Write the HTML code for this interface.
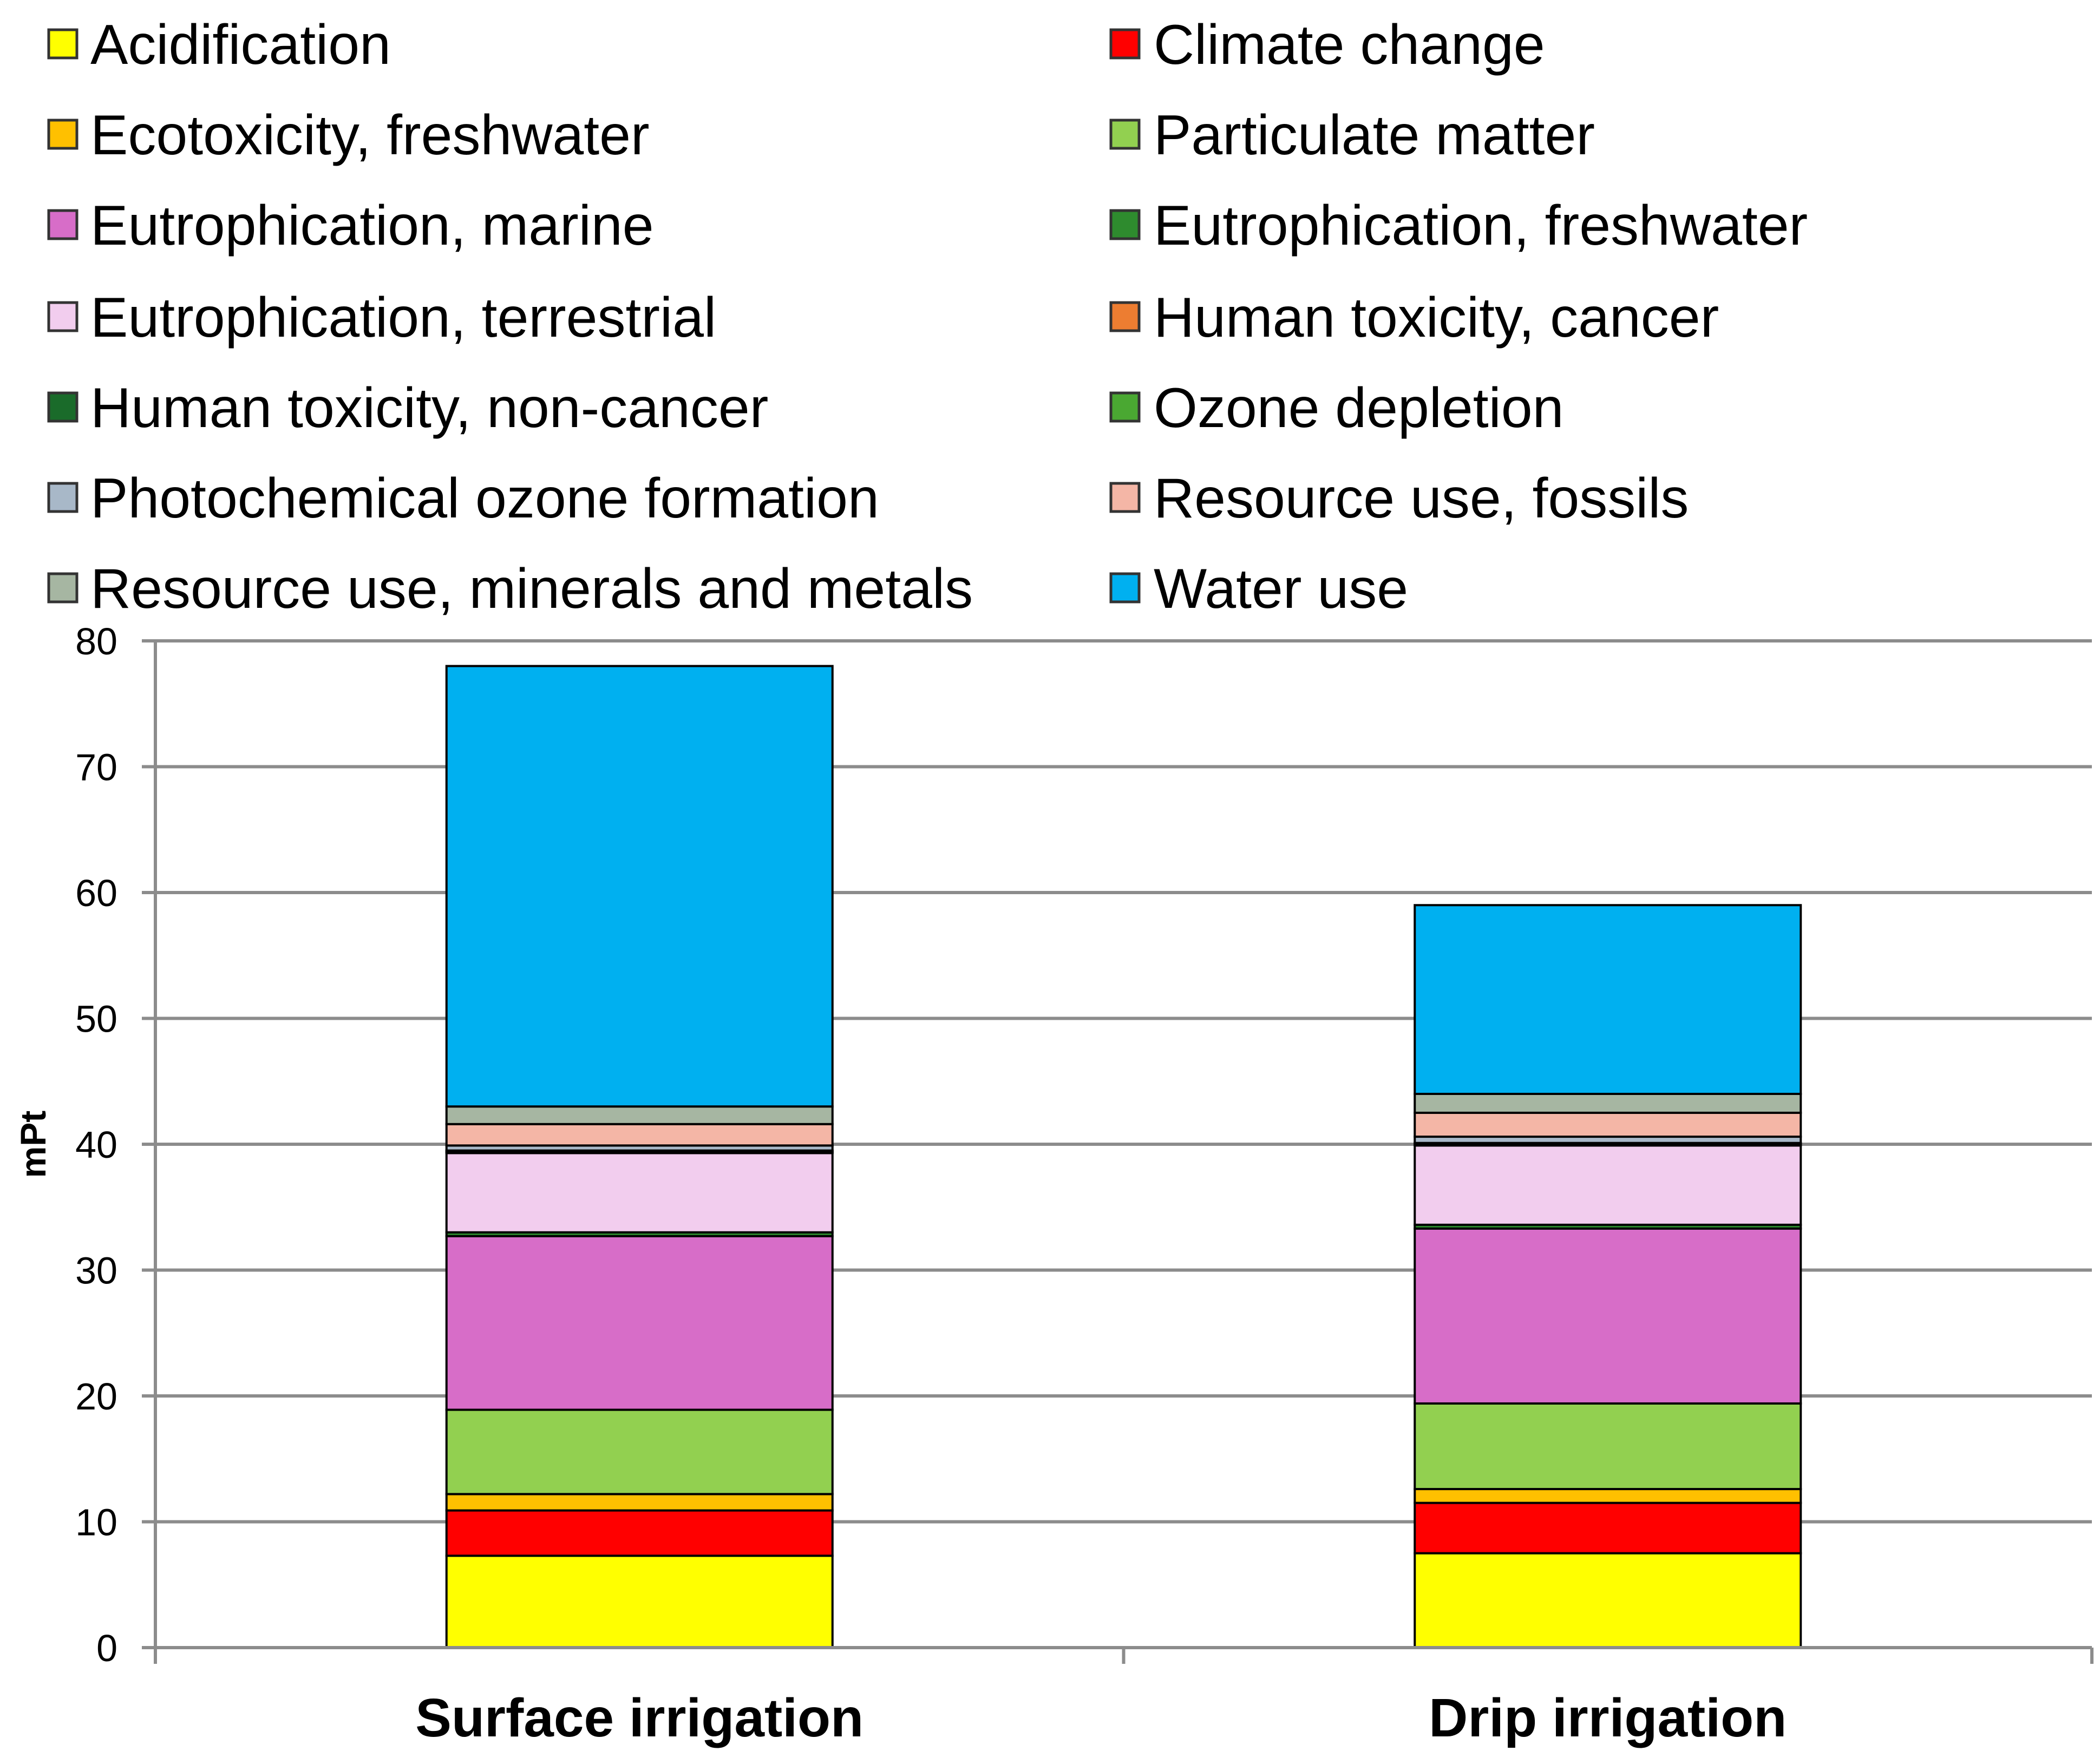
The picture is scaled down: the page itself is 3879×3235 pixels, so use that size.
<!DOCTYPE html>
<html><head><meta charset="utf-8"><style>
html,body{margin:0;padding:0;background:#fff;}
svg{display:block;font-family:"Liberation Sans",sans-serif;}
</style></head><body>
<svg id="chart" width="3879" height="3235" viewBox="0 0 3879 3235" xmlns="http://www.w3.org/2000/svg">
<rect width="3879" height="3235" fill="#fff"/>
<g id="legend"></g>
<g id="grid"></g>
<g id="bars"></g>
<g id="axes"></g>
<text transform="translate(84,2114) rotate(-90)" text-anchor="middle" font-size="66" font-weight="bold" fill="#000">mPt</text>
</svg>
<script>
const categories = ["Surface irrigation", "Drip irrigation"];
const seriesNames = ["Acidification","Climate change","Ecotoxicity, freshwater","Particulate matter","Eutrophication, marine","Eutrophication, freshwater","Eutrophication, terrestrial","Human toxicity, cancer","Human toxicity, non-cancer","Ozone depletion","Photochemical ozone formation","Resource use, fossils","Resource use, minerals and metals","Water use"];
const seriesColors = ["#ffff00","#ff0000","#ffc000","#92d050","#d76dc8","#2e8b2e","#f2cdee","#ed7d31","#1a6b2a","#4aa832","#a8b8c8","#f4b6a6","#a6b6a2","#00b0f0"];
const surfaceValues = [7.3,3.6,1.3,6.7,13.8,0.3,6.3,0.05,0.1,0.05,0.4,1.7,1.4,35.0];
const dripValues = [7.5,4.0,1.1,6.8,13.9,0.3,6.3,0.05,0.1,0.05,0.5,1.9,1.5,15.0];
const yTicks = [0,10,20,30,40,50,60,70,80];
const legendLeft = ["Acidification","Ecotoxicity, freshwater","Eutrophication, marine","Eutrophication, terrestrial","Human toxicity, non-cancer","Photochemical ozone formation","Resource use, minerals and metals"];
const legendRight = ["Climate change","Particulate matter","Eutrophication, freshwater","Human toxicity, cancer","Ozone depletion","Resource use, fossils","Water use"];

const NS="http://www.w3.org/2000/svg";
const X0=287, X1=3864, Y0=3044, Ytop=1184, YMAX=80;
const yScale=v=>Y0-(v/YMAX)*(Y0-Ytop);
const band=(X1-X0)/categories.length;
const xCenter=i=>X0+band*(i+0.5);
const barW=713;
function mk(tag,attrs,parent){const e=document.createElementNS(NS,tag);for(const k in attrs)e.setAttribute(k,attrs[k]);parent.appendChild(e);return e;}

const grid=document.getElementById('grid');
yTicks.forEach(t=>{
  const l=mk('line',{x1:X0-25,x2:X1,y1:yScale(t),y2:yScale(t),stroke:'#8c8c8c','stroke-width':6},grid);
  
  
  const tx=mk('text',{x:X0-70,y:yScale(t)+25,'text-anchor':'end','font-size':70,fill:'#000'},grid);
  tx.textContent=t;
  
  
});

const bars=document.getElementById('bars');
[surfaceValues,dripValues].forEach((vals,ci)=>{
  let cum=0;
  const cx=xCenter(ci);
  vals.forEach((v,si)=>{
    const yTop=yScale(cum+v), yBot=yScale(cum);
    const r=mk('rect',{x:cx-barW/2,y:yTop,width:barW,height:Math.max(yBot-yTop,0.5),fill:seriesColors[si],stroke:'#000','stroke-width':4},bars);
    
    
    cum+=v;
  });
  const lab=mk('text',{x:cx,y:3208,'text-anchor':'middle','font-size':100,'font-weight':'bold',fill:'#000'},bars);
  lab.textContent=categories[ci];
  
  
});

const axes=document.getElementById('axes');
const ya=mk('line',{x1:X0,x2:X0,y1:Ytop,y2:Y0+30,stroke:'#8c8c8c','stroke-width':6},axes);


const xa=mk('line',{x1:X0,x2:X1,y1:Y0,y2:Y0,stroke:'#8c8c8c','stroke-width':6},axes);


for(let i=1;i<=categories.length;i++){
  const tk=mk('line',{x1:X0+band*i,x2:X0+band*i,y1:Y0,y2:Y0+30,stroke:'#8c8c8c','stroke-width':6},axes);
  
  
}

const legend=document.getElementById('legend');
const rowY=[82,249,416,586,753,920,1087];
[[legendLeft,90,167],[legendRight,2052,2131]].forEach(([names,sx,tx])=>{
  names.forEach((n,i)=>{
    const si=seriesNames.indexOf(n);
    const g=mk('g',{},legend);
    
    
    mk('rect',{x:sx,y:rowY[i]-27,width:52,height:52,fill:seriesColors[si],stroke:'#333','stroke-width':5},g);
    const t=mk('text',{x:tx,y:rowY[i]+36,'font-size':104,fill:'#000'},g);
    t.textContent=n;
  });
});
</script>
</body></html>
